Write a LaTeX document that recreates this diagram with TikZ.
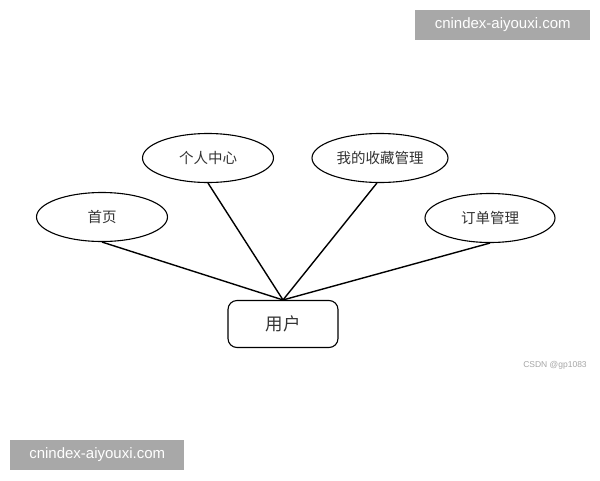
\documentclass[tikz,border=0pt]{standalone}
\usepackage{fontspec}
\setmainfont{Liberation Sans}
\newfontfamily\cjk{Noto Sans CJK SC}
\usetikzlibrary{shapes.geometric}
\definecolor{wmgray}{HTML}{A8A8A8}
\definecolor{txtgray}{HTML}{333333}
\begin{document}
\begin{tikzpicture}[x=1pt,y=-1pt,
  attr/.style={ellipse,draw,line width=1.1pt,minimum width=131pt,minimum height=49pt,inner sep=0pt,font=\cjk\fontsize{14.5}{16}\selectfont,text=txtgray},
  entity/.style={rectangle,rounded corners=9pt,draw,line width=1.1pt,minimum width=110pt,minimum height=47pt,inner sep=0pt,font=\cjk\fontsize{17.5}{20}\selectfont,text=txtgray},
  link/.style={line width=1.4pt},
  wm/.style={fill=wmgray,text=white,inner sep=0pt,font=\fontsize{15}{16}\selectfont,anchor=north west}]
\useasboundingbox (0,0) rectangle (600,480);
\fill[white] (0,0) rectangle (600,480);
\node[attr] (e1) at (102,217) {首页};
\node[attr] (e2) at (208,158) {个人中心};
\node[attr,minimum width=136pt] (e3) at (380,158) {我的收藏管理};
\node[attr,minimum width=130pt] (e4) at (490,218) {订单管理};
\node[entity] (u) at (283,324) {用户};
\draw[link] (e1.south) -- (u.north);
\draw[link] (e2.south) -- (u.north);
\draw[link] (e3.-97) -- (u.north);
\draw[link] (e4.south) -- (u.north);
\node[wm,minimum width=175pt,minimum height=29.5pt] (w1) at (415,10) {cnindex-aiyouxi.com};
\node[wm,minimum width=174pt,minimum height=29.5pt] (w2) at (10,440) {cnindex-aiyouxi.com};
\node[text=gray!70,font=\fontsize{8.5}{10}\selectfont] (c) at (555,365) {CSDN @gp1083};
\end{tikzpicture}
\end{document}
